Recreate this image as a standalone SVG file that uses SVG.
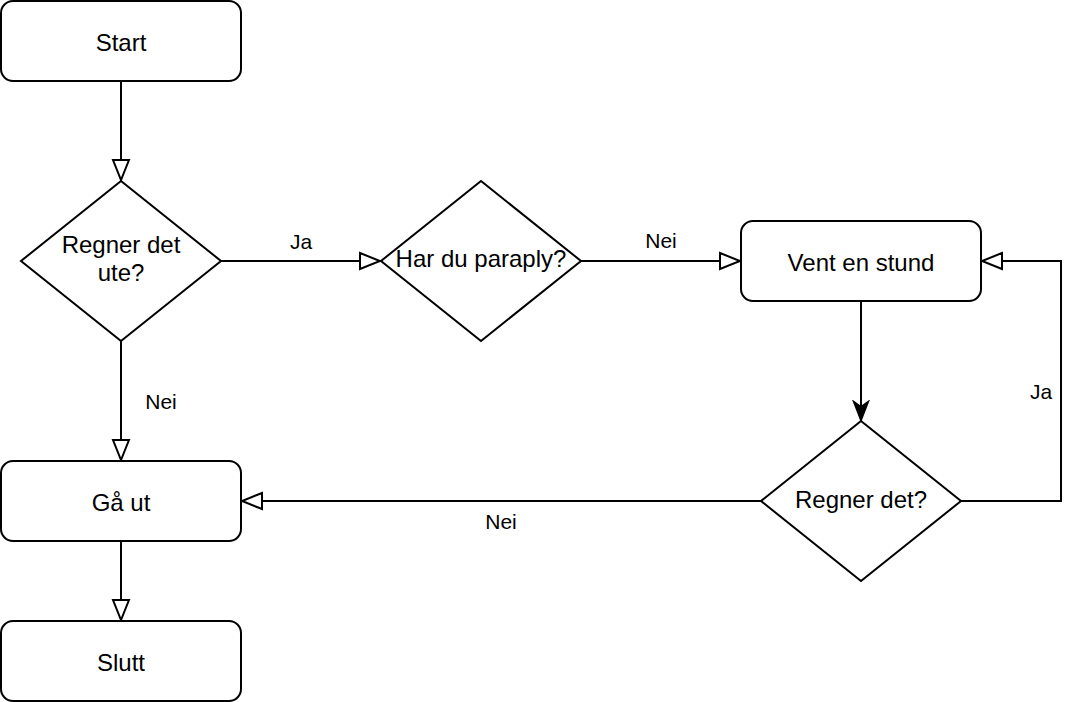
<svg xmlns="http://www.w3.org/2000/svg" width="1082" height="702" viewBox="0 0 1082 702">
<style>
.n{fill:#fff;stroke:#000;stroke-width:2}
.t{font-family:"Liberation Sans",Arial,sans-serif;font-size:24px;fill:#000;text-anchor:middle;dominant-baseline:central}
.l{font-family:"Liberation Sans",Arial,sans-serif;font-size:21px;fill:#000;text-anchor:middle;dominant-baseline:central}
.e{fill:none;stroke:#000;stroke-width:2}
</style>
<defs>
<marker id="open" markerUnits="userSpaceOnUse" markerWidth="24" markerHeight="20" viewBox="-2 -10 24 20" refX="20" refY="0" orient="auto">
<path d="M0,-8 L20,0 L0,8 Z" fill="#fff" stroke="#000" stroke-width="2"/>
</marker>
<marker id="filled" markerUnits="userSpaceOnUse" markerWidth="24" markerHeight="20" viewBox="-2 -10 24 20" refX="18" refY="0" orient="auto">
<path d="M0,-7 L18,0 L0,7 L5,0 Z" fill="#000" stroke="#000" stroke-width="2" stroke-linejoin="miter"/>
</marker>
</defs>
<rect width="1082" height="702" fill="#fff"/>
<g id="edges">
<path class="e" d="M121,81 L121,180" marker-end="url(#open)"/>
<path class="e" d="M221,261 L380,261" marker-end="url(#open)"/>
<path class="e" d="M581,261 L740,261" marker-end="url(#open)"/>
<path class="e" d="M121,341 L121,460" marker-end="url(#open)"/>
<path class="e" d="M861,301 L861,420" marker-end="url(#filled)"/>
<path class="e" d="M961,501 L1061,501 L1061,261 L982,261" marker-end="url(#open)"/>
<path class="e" d="M761,501 L242,501" marker-end="url(#open)"/>
<path class="e" d="M121,541 L121,620" marker-end="url(#open)"/>
<text class="l" x="301" y="241">Ja</text>
<text class="l" x="661" y="240">Nei</text>
<text class="l" x="161" y="401">Nei</text>
<text class="l" x="1041" y="391">Ja</text>
<text class="l" x="501" y="521">Nei</text>
</g>
<g id="start"><rect class="n" x="1" y="1" width="240" height="80" rx="12"/><text class="t" x="121" y="42">Start</text></g>
<g id="regner-ute"><path class="n" d="M121,181 L221,261 L121,341 L21,261 Z"/><text class="t" x="121" y="244">Regner det</text><text class="t" x="121" y="272">ute?</text></g>
<g id="paraply"><path class="n" d="M481,181 L581,261 L481,341 L381,261 Z"/><text class="t" x="481" y="258">Har du paraply?</text></g>
<g id="vent"><rect class="n" x="741" y="221" width="240" height="80" rx="12"/><text class="t" x="861" y="262">Vent en stund</text></g>
<g id="regner"><path class="n" d="M861,421 L961,501 L861,581 L761,501 Z"/><text class="t" x="861" y="499">Regner det?</text></g>
<g id="gaa-ut"><rect class="n" x="1" y="461" width="240" height="80" rx="12"/><text class="t" x="121" y="502">Gå ut</text></g>
<g id="slutt"><rect class="n" x="1" y="621" width="240" height="80" rx="12"/><text class="t" x="121" y="662">Slutt</text></g>
</svg>
